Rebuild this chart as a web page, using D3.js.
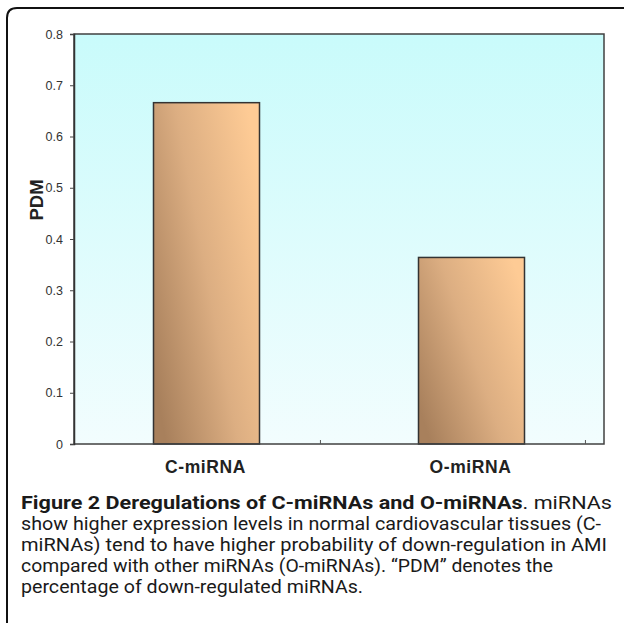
<!DOCTYPE html>
<html>
<head>
<meta charset="utf-8">
<script src="https://cdn.jsdelivr.net/npm/d3@7/dist/d3.min.js"></script>
<style>
  html, body { margin: 0; padding: 0; background: #fff; }
  svg { display: block; }
</style>
</head>
<body>
<svg id="chart" width="624" height="623"></svg>
<script>
// ---- data ----
const categories = ["C-miRNA", "O-miRNA"];
const pdmValues = [0.666, 0.364];
const yTickValues = [0, 0.1, 0.2, 0.3, 0.4, 0.5, 0.6, 0.7, 0.8];
const yLabel = "PDM";
const captionBold = "Figure 2 Deregulations of C-miRNAs and O-miRNAs";
const captionLines = [
  ". miRNAs",
  "show higher expression levels in normal cardiovascular tissues (C-",
  "miRNAs) tend to have higher probability of down-regulation in AMI",
  "compared with other miRNAs (O-miRNAs). \u201CPDM\u201D denotes the",
  "percentage of down-regulated miRNAs."
];

// ---- layout ----
const svg = d3.select("#chart");
const plot = { left: 74, right: 604, top: 34, bottom: 444 };

const defs = svg.append("defs");
const bg = defs.append("linearGradient").attr("id", "bgGrad")
  .attr("x1", 0).attr("y1", 0).attr("x2", 0).attr("y2", 1);
bg.append("stop").attr("offset", "0%").attr("stop-color", "#c9fbfb");
bg.append("stop").attr("offset", "100%").attr("stop-color", "#f2fdfe");

const barGrad = defs.append("linearGradient").attr("id", "barGrad")
  .attr("x1", 0).attr("y1", 0.8).attr("x2", 1).attr("y2", 0.2);
barGrad.append("stop").attr("offset", "0%").attr("stop-color", "#a8805c");
barGrad.append("stop").attr("offset", "50%").attr("stop-color", "#dcae82");
barGrad.append("stop").attr("offset", "100%").attr("stop-color", "#fecb95");

// outer figure frame
svg.append("path")
  .attr("d", "M7,623 L7,18 Q7,8 17,8 L624,8")
  .attr("fill", "none").attr("stroke", "#111").attr("stroke-width", 2);

// scales
const x = d3.scaleBand().domain(categories)
  .range([plot.left, plot.right]).paddingInner(0.6).paddingOuter(0.3);
const y = d3.scaleLinear().domain([0, 0.8]).range([plot.bottom, plot.top]);

// plot background
svg.append("rect")
  .attr("x", plot.left).attr("y", plot.top)
  .attr("width", plot.right - plot.left).attr("height", plot.bottom - plot.top)
  .attr("fill", "url(#bgGrad)");

// bars
svg.append("g").selectAll("rect").data(categories).join("rect")
  .attr("x", d => x(d))
  .attr("y", (d, i) => y(pdmValues[i]))
  .attr("width", x.bandwidth())
  .attr("height", (d, i) => y(0) - y(pdmValues[i]))
  .attr("fill", "url(#barGrad)")
  .attr("stroke", "#333").attr("stroke-width", 1.5);

// plot border
svg.append("rect")
  .attr("x", plot.left).attr("y", plot.top)
  .attr("width", plot.right - plot.left).attr("height", plot.bottom - plot.top)
  .attr("fill", "none").attr("stroke", "#404040").attr("stroke-width", 1.5);

// y axis
const yAxis = svg.append("g")
  .attr("transform", `translate(${plot.left},0)`)
  .call(d3.axisLeft(y).tickValues(yTickValues).tickSize(4).tickPadding(7)
    .tickFormat(d => d === 0 ? "0" : d3.format(".1f")(d)));
yAxis.select(".domain").attr("stroke", "#333").attr("stroke-width", 1.5);
yAxis.selectAll(".tick line").attr("stroke", "#444");
yAxis.selectAll(".tick text")
  .attr("font-family", "'Liberation Sans', Arial, sans-serif")
  .attr("font-size", 12.5).attr("fill", "#333");

// x axis (small inner tick marks)
const xAxis = svg.append("g");
xAxis.selectAll("line").data(categories).join("line")
  .attr("x1", d => x(d) - x.step() * 0.3 + x.step() * 0.93)
  .attr("x2", d => x(d) - x.step() * 0.3 + x.step() * 0.93)
  .attr("y1", plot.bottom).attr("y2", plot.bottom - 4)
  .attr("stroke", "#555").attr("stroke-width", 1);
xAxis.selectAll("text").data(categories).join("text")
  .attr("x", d => x(d) + x.bandwidth() / 2 - 1)
  .attr("y", 473)
  .attr("text-anchor", "middle")
  .attr("font-family", "'Liberation Sans', Arial, sans-serif")
  .attr("font-weight", "bold").attr("font-size", 17.5)
  .attr("letter-spacing", 0.6)
  .attr("fill", "#222")
  .text(d => d);

// y label
svg.append("text")
  .attr("transform", `translate(43,${(plot.top + plot.bottom) / 2 - 39}) rotate(-90)`)
  .attr("text-anchor", "middle")
  .attr("font-family", "'Liberation Sans', Arial, sans-serif")
  .attr("font-weight", "bold").attr("font-size", 18.5)
  .attr("fill", "#222")
  .text(yLabel);

// caption
const capFont = "Roboto, 'Liberation Sans', sans-serif";
const capX = 21;
const capBaselines = [509, 530, 551, 572, 593];
const capRights = [612, 601, 607, 553, 363];
const capSize = 17.5;
const cap = svg.append("g").attr("font-family", capFont).attr("fill", "#1a1a1a");

const t0 = cap.append("text").attr("x", capX).attr("y", capBaselines[0])
  .attr("font-size", capSize);
t0.append("tspan").attr("font-weight", "bold").text(captionBold);
t0.append("tspan").text(captionLines[0]);
t0.attr("textLength", capRights[0] - capX).attr("lengthAdjust", "spacingAndGlyphs");

captionLines.slice(1).forEach((line, i) => {
  cap.append("text")
    .attr("x", capX).attr("y", capBaselines[i + 1])
    .attr("font-size", capSize)
    .attr("textLength", capRights[i + 1] - capX)
    .attr("lengthAdjust", "spacingAndGlyphs")
    .text(line);
});
</script>
</body>
</html>
